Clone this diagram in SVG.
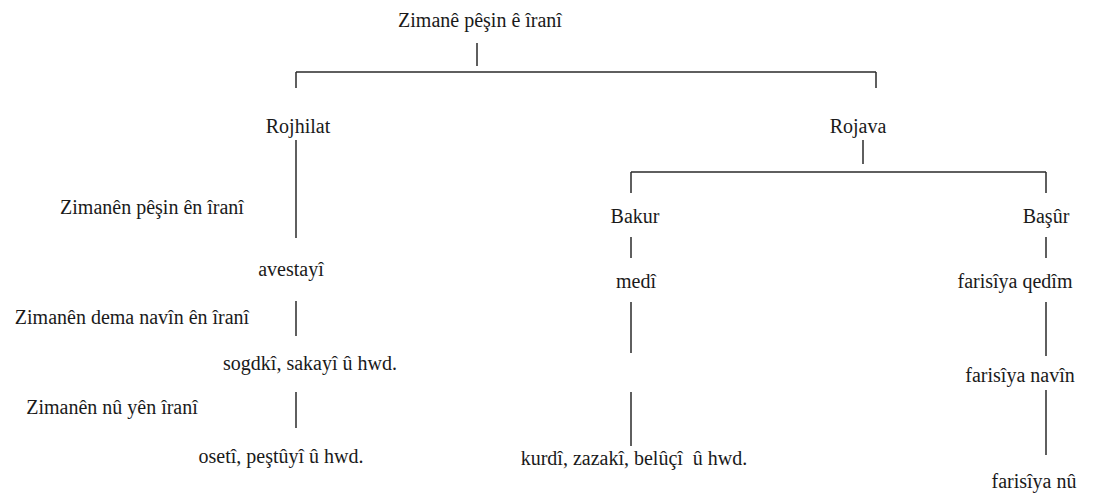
<svg xmlns="http://www.w3.org/2000/svg" width="1097" height="495" viewBox="0 0 1097 495">
<style>
.t text{font-size:20px;fill:#1a1a1a;text-anchor:middle}
.c line{stroke:#2a2a2a;stroke-width:1.5;fill:none}
</style>
<rect width="1097" height="495" fill="#ffffff"/>
<g id="connectors" class="c">
<line x1="477" y1="43" x2="477" y2="66"/>
<line x1="296" y1="72" x2="876" y2="72"/>
<line x1="296" y1="72" x2="296" y2="88"/>
<line x1="876" y1="72" x2="876" y2="88"/>
<line x1="296" y1="140" x2="296" y2="238"/>
<line x1="296" y1="301" x2="296" y2="336"/>
<line x1="296" y1="392" x2="296" y2="428"/>
<line x1="863" y1="140" x2="863" y2="164"/>
<line x1="631" y1="172" x2="1046" y2="172"/>
<line x1="631" y1="172" x2="631" y2="193"/>
<line x1="1046" y1="172" x2="1046" y2="193"/>
<line x1="631" y1="237" x2="631" y2="258"/>
<line x1="631" y1="302" x2="631" y2="353"/>
<line x1="631" y1="392" x2="631" y2="446"/>
<line x1="1046" y1="237" x2="1046" y2="258"/>
<line x1="1046" y1="302" x2="1046" y2="356"/>
<line x1="1046" y1="390" x2="1046" y2="455"/>
</g>
<g class="t" font-family="Liberation Serif, DejaVu Serif, serif">
<g id="n-root"><text x="480" y="27">Zimanê pêşin ê îranî</text></g>
<g id="n-rojhilat"><text x="298" y="133">Rojhilat</text></g>
<g id="n-rojava"><text x="858" y="133">Rojava</text></g>
<g id="n-label-pesin"><text x="152" y="214">Zimanên pêşin ên îranî</text></g>
<g id="n-avestayi"><text x="291" y="276">avestayî</text></g>
<g id="n-label-navin"><text x="132" y="324">Zimanên dema navîn ên îranî</text></g>
<g id="n-sogdki"><text x="310" y="370">sogdkî, sakayî û hwd.</text></g>
<g id="n-label-nu"><text x="112" y="414">Zimanên nû yên îranî</text></g>
<g id="n-oseti"><text x="281" y="463">osetî, peştûyî û hwd.</text></g>
<g id="n-bakur"><text x="635" y="223">Bakur</text></g>
<g id="n-medi"><text x="636" y="288">medî</text></g>
<g id="n-kurdi"><text x="634" y="465" xml:space="preserve">kurdî, zazakî, belûçî  û hwd.</text></g>
<g id="n-basur"><text x="1046" y="223">Başûr</text></g>
<g id="n-qedim"><text x="1015" y="288">farisîya qedîm</text></g>
<g id="n-navin"><text x="1020" y="382">farisîya navîn</text></g>
<g id="n-nu"><text x="1034" y="488">farisîya nû</text></g>
</g>
</svg>
